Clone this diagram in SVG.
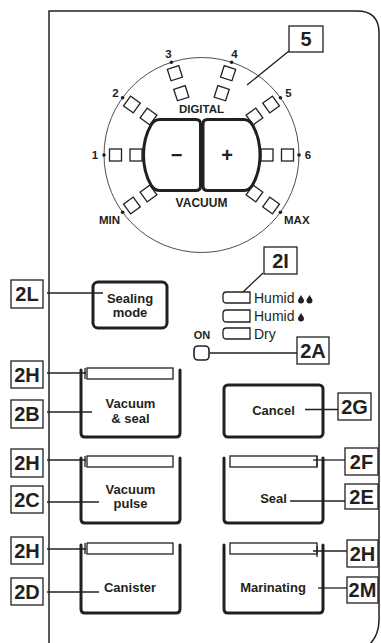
<svg xmlns="http://www.w3.org/2000/svg" xmlns:xlink="http://www.w3.org/1999/xlink" width="381" height="643" viewBox="0 0 381 643">
<style>
text{font-family:"Liberation Sans",Arial,sans-serif;fill:#231f20}
.lbl{font-size:20px;font-weight:bold;text-anchor:middle}
.lbox{fill:#fff;stroke:#231f20;stroke-width:1.3}
.btn{fill:none;stroke:#231f20;stroke-width:3;stroke-linejoin:round;stroke-linecap:round}
.bar{fill:#fff;stroke:#231f20;stroke-width:1.3}
.bt{font-size:13px;font-weight:bold;text-anchor:middle}
.sq{fill:#fff;stroke:#231f20;stroke-width:1.3}
.num{font-size:11.5px;font-weight:bold;text-anchor:middle}
.ld{stroke:#231f20;stroke-width:1.3;fill:none}
.ind{fill:#fff;stroke:#231f20;stroke-width:1.3}
.hum{font-size:14px}
</style>
<defs>
<rect id="s" x="-6" y="-6" width="12" height="12" class="sq"/>
<path id="drop" d="M0,-4 C1,-2 3,0 3,1.5 A3,3 0 0 1 -3,1.5 C-3,0 -1,-2 0,-4 Z" fill="#231f20"/>
</defs>
<rect width="381" height="643" fill="#fff"/>
<g id="frame">
<path d="M49,643 V11 H357 Q379,11 379,33 V620 Q379,636 368,646" fill="none" stroke="#231f20" stroke-width="1.5"/>
</g>
<g id="dial">
<circle cx="201.5" cy="155" r="97.5" fill="none" stroke="#231f20" stroke-width="0.8"/>
<g fill="#231f20">
<circle cx="104" cy="155" r="1.8"/>
<circle cx="122.6" cy="97.7" r="1.8"/>
<circle cx="171.4" cy="62.3" r="1.8"/>
<circle cx="231.6" cy="62.3" r="1.8"/>
<circle cx="280.4" cy="97.7" r="1.8"/>
<circle cx="299" cy="155" r="1.8"/>
<circle cx="122.6" cy="212.3" r="1.8"/>
<circle cx="280.4" cy="212.3" r="1.8"/>
</g>
<use xlink:href="#s" transform="translate(115.5,155)"/>
<use xlink:href="#s" transform="translate(136,155)"/>
<use xlink:href="#s" transform="translate(131.9,104.5) rotate(36)"/>
<use xlink:href="#s" transform="translate(148.5,116.5) rotate(36)"/>
<use xlink:href="#s" transform="translate(174.9,73.2) rotate(72)"/>
<use xlink:href="#s" transform="translate(181.3,93.2) rotate(72)"/>
<use xlink:href="#s" transform="translate(228.1,73.2) rotate(-72)"/>
<use xlink:href="#s" transform="translate(221.7,93.2) rotate(-72)"/>
<use xlink:href="#s" transform="translate(271.1,104.5) rotate(-36)"/>
<use xlink:href="#s" transform="translate(254.5,116.5) rotate(-36)"/>
<use xlink:href="#s" transform="translate(287.5,155)"/>
<use xlink:href="#s" transform="translate(267,155)"/>
<use xlink:href="#s" transform="translate(131.9,205.5) rotate(-36)"/>
<use xlink:href="#s" transform="translate(148.5,193.5) rotate(-36)"/>
<use xlink:href="#s" transform="translate(271.1,205.5) rotate(36)"/>
<use xlink:href="#s" transform="translate(254.5,193.5) rotate(36)"/>
<text class="num" x="95" y="159">1</text>
<text class="num" x="115.5" y="96.5">2</text>
<text class="num" x="168.5" y="58">3</text>
<text class="num" x="234.5" y="58">4</text>
<text class="num" x="288.5" y="96.5">5</text>
<text class="num" x="308" y="159">6</text>
<text class="num" x="120" y="224" style="text-anchor:end">MIN</text>
<text class="num" x="284" y="224" style="text-anchor:start">MAX</text>
<text x="201.5" y="113" font-size="11.5" font-weight="bold" text-anchor="middle">DIGITAL</text>
<text x="201.5" y="207" font-size="12" font-weight="bold" text-anchor="middle">VACUUM</text>
</g>
<g id="minus">
<path class="btn" d="M196,119.5 Q200.5,119.5 200.5,124 V186 Q200.5,190.5 196,190.5 H160 Q154,190.5 151,185 Q143.5,172 143.5,155 Q143.5,138 151,125 Q154,119.5 160,119.5 Z" style="fill:#fff"/>
<text x="176.5" y="162" font-size="20" font-weight="bold" text-anchor="middle">−</text>
</g>
<g id="plus">
<path class="btn" d="M207.5,119.5 Q203,119.5 203,124 V186 Q203,190.5 207.5,190.5 H243.5 Q249.5,190.5 252.5,185 Q260,172 260,155 Q260,138 252.5,125 Q249.5,119.5 243.5,119.5 Z" style="fill:#fff"/>
<text x="227" y="161.5" font-size="20" font-weight="bold" text-anchor="middle">+</text>
</g>
<g id="sealing-mode">
<rect x="93" y="282" width="74" height="46" rx="5" class="btn"/>
<text class="bt" x="130" y="303">Sealing</text>
<text class="bt" x="130" y="317">mode</text>
</g>
<g id="indicators">
<path class="ind" d="M250,292 H226.5 Q223,292 223,295.5 V299.5 Q223,303 226.5,303 H250 Z"/>
<path class="ind" d="M250,310 H226.5 Q223,310 223,313.5 V318.5 Q223,322 226.5,322 H250 Z"/>
<path class="ind" d="M250,328 H226.5 Q223,328 223,331.5 V335.5 Q223,339 226.5,339 H250 Z"/>
<text class="hum" x="254" y="303">Humid</text>
<use xlink:href="#drop" transform="translate(301,299)"/>
<use xlink:href="#drop" transform="translate(309.5,299)"/>
<text class="hum" x="254" y="321">Humid</text>
<use xlink:href="#drop" transform="translate(301,317)"/>
<text class="hum" x="254" y="339">Dry</text>
</g>
<g id="on">
<text x="202" y="339" font-size="11" font-weight="bold" text-anchor="middle">ON</text>
<rect x="194" y="346" width="15" height="14" rx="4" fill="#fff" stroke="#231f20" stroke-width="1.6"/>
</g>
<g id="vacuum-seal">
<path class="btn" d="M81,370 V433 Q81,437 85,437 H176 Q180,437 180,433 V370"/>
<rect class="bar" x="87" y="368" width="86" height="11"/>
<text class="bt" x="130.5" y="408">Vacuum</text>
<text class="bt" x="130.5" y="423">&amp; seal</text>
</g>
<g id="vacuum-pulse">
<path class="btn" d="M81,458 V519 Q81,523 85,523 H176 Q180,523 180,519 V458"/>
<rect class="bar" x="87" y="456" width="86" height="11"/>
<text class="bt" x="130.5" y="494">Vacuum</text>
<text class="bt" x="130.5" y="508">pulse</text>
</g>
<g id="canister">
<path class="btn" d="M81,545 V609 Q81,613 85,613 H176 Q180,613 180,609 V545"/>
<rect class="bar" x="87" y="543" width="86" height="11"/>
<text class="bt" x="130" y="592">Canister</text>
</g>
<g id="cancel">
<rect x="224" y="385" width="99" height="52" rx="4" class="btn"/>
<text class="bt" x="273.5" y="415">Cancel</text>
</g>
<g id="seal">
<path class="btn" d="M224,458 V519 Q224,523 228,523 H319 Q323,523 323,519 V458"/>
<rect class="bar" x="230" y="456" width="87" height="11"/>
<text class="bt" x="273.5" y="503">Seal</text>
</g>
<g id="marinating">
<path class="btn" d="M224,545 V609 Q224,613 228,613 H319 Q323,613 323,609 V545"/>
<rect class="bar" x="230" y="543" width="87" height="11"/>
<text class="bt" x="273" y="592">Marinating</text>
</g>
<g id="connectors">
<line class="ld" x1="289" y1="51" x2="247" y2="85"/>
<line class="ld" x1="263" y1="273" x2="243" y2="292"/>
<line class="ld" x1="47" y1="293" x2="103" y2="293"/>
<line class="ld" x1="210" y1="353" x2="297" y2="353"/>
<line class="ld" x1="47" y1="373" x2="86" y2="373"/>
<line class="ld" x1="85" y1="368" x2="85" y2="379"/>
<line class="ld" x1="47" y1="412" x2="92" y2="412"/>
<line class="ld" x1="47" y1="460" x2="86" y2="460"/>
<line class="ld" x1="85" y1="456" x2="85" y2="467"/>
<line class="ld" x1="47" y1="502" x2="99" y2="502"/>
<line class="ld" x1="47" y1="549" x2="86" y2="549"/>
<line class="ld" x1="85" y1="543" x2="85" y2="554"/>
<line class="ld" x1="47" y1="592" x2="99" y2="592"/>
<line class="ld" x1="305" y1="409.5" x2="338" y2="409.5"/>
<line class="ld" x1="313" y1="460" x2="345" y2="460"/>
<line class="ld" x1="317" y1="456" x2="317" y2="467"/>
<line class="ld" x1="290" y1="501" x2="345" y2="501"/>
<line class="ld" x1="313" y1="551" x2="347" y2="551"/>
<line class="ld" x1="317" y1="546" x2="317" y2="557"/>
<line class="ld" x1="318" y1="588" x2="347" y2="588"/>
</g>
<g id="label-5"><rect class="lbox" x="289" y="26" width="34" height="26"/><text class="lbl" x="306" y="46">5</text></g>
<g id="label-2I"><rect class="lbox" x="264" y="247" width="33" height="27"/><text class="lbl" x="280.5" y="268">2I</text></g>
<g id="label-2L"><rect class="lbox" x="11" y="280" width="32" height="28"/><text class="lbl" x="27" y="301">2L</text></g>
<g id="label-2A"><rect class="lbox" x="297" y="337" width="32" height="27"/><text class="lbl" x="313" y="357.5">2A</text></g>
<g id="label-2H-1"><rect class="lbox" x="11" y="361" width="32" height="27"/><text class="lbl" x="27" y="381.5">2H</text></g>
<g id="label-2B"><rect class="lbox" x="11" y="400" width="32" height="28"/><text class="lbl" x="27" y="421">2B</text></g>
<g id="label-2H-2"><rect class="lbox" x="11" y="449" width="32" height="28"/><text class="lbl" x="27" y="470">2H</text></g>
<g id="label-2C"><rect class="lbox" x="11" y="486" width="32" height="27"/><text class="lbl" x="27" y="506.5">2C</text></g>
<g id="label-2H-3"><rect class="lbox" x="11" y="537" width="32" height="27"/><text class="lbl" x="27" y="557.5">2H</text></g>
<g id="label-2D"><rect class="lbox" x="11" y="578" width="32" height="27"/><text class="lbl" x="27" y="598.5">2D</text></g>
<g id="label-2G"><rect class="lbox" x="338" y="393" width="33" height="27"/><text class="lbl" x="354.5" y="413.5">2G</text></g>
<g id="label-2F"><rect class="lbox" x="345" y="448" width="33" height="27"/><text class="lbl" x="361.5" y="468.5">2F</text></g>
<g id="label-2E"><rect class="lbox" x="345" y="484" width="33" height="25"/><text class="lbl" x="361.5" y="503.5">2E</text></g>
<g id="label-2H-4"><rect class="lbox" x="347" y="540" width="31" height="27"/><text class="lbl" x="362.5" y="560.5">2H</text></g>
<g id="label-2M"><rect class="lbox" x="347" y="577" width="31" height="26"/><text class="lbl" x="362.5" y="597">2M</text></g>
</svg>
